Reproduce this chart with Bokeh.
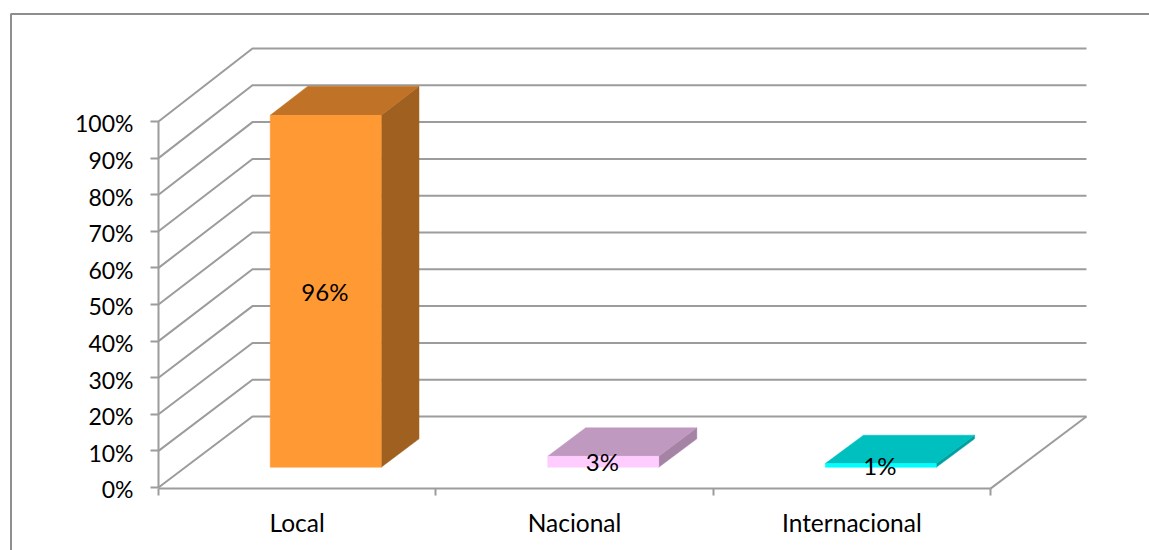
from bokeh.plotting import figure
from bokeh.models import LinearAxis, FixedTicker, Range1d
from bokeh.core.properties import value
from bokeh.embed import file_html
from bokeh.resources import INLINE

# ---- data ----
categories = ["Local", "Nacional", "Internacional"]
shares = [96, 3, 1]
share_labels = ["96%", "3%", "1%"]
y_ticks = [0, 10, 20, 30, 40, 50, 60, 70, 80, 90, 100]

# ---- styles ----
FONT = "Lato"
GRID = "#9C9C9C"
front_colors = ["#FF9933", "#FFCCFF", "#00FFFF"]
top_colors = ["#C07226", "#BF99BF", "#00BFBF"]
side_colors = ["#A06020", "#A583A5", "#00A0A0"]

# ---- geometry: page pixels <-> data units ----
W, H = 1149, 550
PX_CAT = 277.33      # px per category
PX_PCT = 3.66        # px per percent
X0_PAGE, Y0_PAGE = 158, 487
xr = Range1d(-X0_PAGE / PX_CAT, (W - X0_PAGE) / PX_CAT)
yr = Range1d((Y0_PAGE - H) / PX_PCT, Y0_PAGE / PX_PCT)

DEPTH_X = 94 / PX_CAT
DEPTH_Y = 71 / PX_PCT
BACK_SCALE = 36.8 / 36.6
BACK_WIDEN = 834 / 832


def proj(cat, pct, d):
    """3D (category, percent, depth 0..1) -> 2D data coordinates."""
    return (cat * (1 + d * (BACK_WIDEN - 1)) + d * DEPTH_X,
            pct * (1 + d * (BACK_SCALE - 1)) + d * DEPTH_Y)


p = figure(width=W, height=H, x_range=xr, y_range=yr, output_backend="svg",
           toolbar_location=None, min_border=0, x_axis_type=None, y_axis_type=None,
           outline_line_color=None, background_fill_color="white")
p.grid.visible = False

# outer chart border (top and left, running off the picture)
bx = (10.5 - X0_PAGE) / PX_CAT
by = (Y0_PAGE - 13.5) / PX_PCT
p.line([bx, bx, xr.end], [yr.start, by, by], line_color="#8E8E8E", line_width=2)

# side wall + back wall gridlines
n = len(categories)
for t in y_ticks:
    a = proj(0, t, 0)
    b = proj(0, t, 1)
    c = proj(n, t, 1)
    p.line([a[0], b[0], c[0]], [a[1], b[1], c[1]], line_color=GRID, line_width=2,
           line_join="miter")

# floor right edge
a, b = proj(n, 0, 0), proj(n, 0, 1)
p.line([a[0], b[0]], [a[1] - 0.3, b[1]], line_color=GRID, line_width=2)

# bars
BAR = 0.40
BAR_SHIFT = 0.006
D1, D2 = 0.285, 0.685
for i, v in enumerate(shares):
    l, r = i + 0.5 + BAR_SHIFT - BAR / 2, i + 0.5 + BAR_SHIFT + BAR / 2
    f = [proj(l, 0, D1), proj(r, 0, D1), proj(r, v, D1), proj(l, v, D1)]
    t = [proj(l, v, D1), proj(r, v, D1), proj(r, v, D2), proj(l, v, D2)]
    s = [proj(r, 0, D1), proj(r, 0, D2), proj(r, v, D2), proj(r, v, D1)]
    for pts, col in ((s, side_colors[i]), (t, top_colors[i]), (f, front_colors[i])):
        p.patch([q[0] for q in pts], [q[1] for q in pts], fill_color=col, line_color=col,
                line_width=0.5)

# data labels
lab_pos = [(i + 0.5, v / 2, D1) for i, v in enumerate(shares)]
lx = [proj(*q)[0] + 0.003 for q in lab_pos]
ly = [proj(*q)[1] for q in lab_pos]
p.text(lx, ly, text=share_labels, text_font=value(FONT), text_font_size=value("24px"),
       text_align="center", text_baseline="middle", text_color="#000000")

# value axis: rule and tick marks
yax = LinearAxis(fixed_location=0, ticker=FixedTicker(ticks=y_ticks), bounds=(0, 100))
yax.axis_line_color = GRID
yax.axis_line_width = 2
yax.major_tick_line_color = GRID
yax.major_tick_line_width = 2
yax.major_tick_in = 0
yax.major_tick_out = 8
yax.minor_tick_line_color = None
yax.major_label_text_font_size = "0px"
yax.major_label_text_color = None
p.add_layout(yax, "left")

# value axis labels, sitting a little below their ticks as in the original
LABEL_DROP = 0.5
ylab = LinearAxis(fixed_location=0, ticker=FixedTicker(ticks=[t - LABEL_DROP for t in y_ticks]),
                  major_label_overrides={t - LABEL_DROP: f"{t}%" for t in y_ticks})
ylab.axis_line_color = None
ylab.major_tick_line_color = None
ylab.minor_tick_line_color = None
ylab.major_tick_in = 0
ylab.major_tick_out = 0
ylab.major_label_standoff = 25
ylab.major_label_text_font = FONT
ylab.major_label_text_font_size = "23px"
ylab.major_label_text_color = "#000000"
p.add_layout(ylab, "left")

# category axis: tick marks between the categories
xax = LinearAxis(fixed_location=-0.3, ticker=FixedTicker(ticks=list(range(n + 1))), bounds=(0, n))
xax.axis_line_color = GRID
xax.axis_line_width = 2
xax.major_tick_line_color = GRID
xax.major_tick_line_width = 2
xax.major_tick_in = 0
xax.major_tick_out = 7
xax.minor_tick_line_color = None
xax.major_label_text_font_size = "0px"
xax.major_label_text_color = None
p.add_layout(xax, "below")

# category labels at the centre of each slot
lax = LinearAxis(fixed_location=-0.3,
                 ticker=FixedTicker(ticks=[i + 0.5 for i in range(n)]),
                 major_label_overrides={i + 0.5: c for i, c in enumerate(categories)})
lax.axis_line_color = None
lax.major_tick_line_color = None
lax.minor_tick_line_color = None
lax.major_tick_in = 0
lax.major_tick_out = 0
lax.major_label_standoff = 19
lax.major_label_text_font = FONT
lax.major_label_text_font_size = "24.5px"
lax.major_label_text_color = "#000000"
p.add_layout(lax, "below")

open("out.html", "w").write(file_html(p, INLINE))
